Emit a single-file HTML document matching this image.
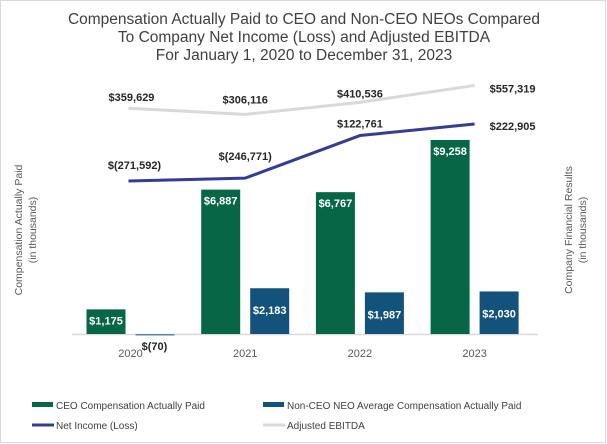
<!DOCTYPE html>
<html><head><meta charset="utf-8"><style>
body{margin:0;background:#fff}
svg{display:block;font-family:"Liberation Sans",Arial,sans-serif}
</style></head><body>
<svg id="chart" width="607" height="444" viewBox="0 0 607 444">
<rect x="0.5" y="0.5" width="605" height="442" fill="#fff" stroke="#d9d9d9"/>
<g fill="#404040" font-size="15.5" text-anchor="middle">
<text x="304" y="24">Compensation Actually Paid to CEO and Non-CEO NEOs Compared</text>
<text x="304" y="42">To Company Net Income (Loss) and Adjusted EBITDA</text>
<text x="304" y="60">For January 1, 2020 to December 31, 2023</text>
</g>
<text transform="translate(22,230) rotate(-90)" text-anchor="middle" font-size="10.5" fill="#595959"><tspan x="0" y="0">Compensation Actually Paid</tspan><tspan x="0" y="14">(in thousands)</tspan></text>
<text transform="translate(572,230) rotate(-90)" text-anchor="middle" font-size="10.5" fill="#595959"><tspan x="0" y="0">Company Financial Results</tspan><tspan x="0" y="14">(in thousands)</tspan></text>
<line x1="72" y1="334.5" x2="538" y2="334.5" stroke="#d9d9d9" stroke-width="1.5"/>
<g id="plot"></g>
<g font-size="10" fill="#404040">
<rect x="32" y="402" width="21" height="5" fill="#076645"/>
<text x="56" y="409">CEO Compensation Actually Paid</text>
<rect x="263" y="402" width="21" height="5" fill="#13527a"/>
<text x="287" y="409">Non-CEO NEO Average Compensation Actually Paid</text>
<line x1="32" y1="425" x2="54" y2="425" stroke="#333d96" stroke-width="3"/>
<text x="56" y="429">Net Income (Loss)</text>
<line x1="263" y1="425" x2="285" y2="425" stroke="#d9d9d9" stroke-width="3"/>
<text x="287" y="429">Adjusted EBITDA</text>
</g>
</svg>
<script>
const years=["2020","2021","2022","2023"];
const ceoValues=[1175,6887,6767,9258];
const neoValues=[-70,2183,1987,2030];
const netIncome=[-271592,-246771,122761,222905];
const ebitda=[359629,306116,410536,557319];
const ceoLabels=["$1,175","$6,887","$6,767","$9,258"];
const neoLabels=["$(70)","$2,183","$1,987","$2,030"];
const netLabels=["$(271,592)","$(246,771)","$122,761","$222,905"];
const ebitdaLabels=["$359,629","$306,116","$410,536","$557,319"];

const NS="http://www.w3.org/2000/svg";
const g=document.getElementById('plot');
function xC(i){return 130.5+i*114.7;}
function yL(v){return 334-v*0.02096;}
function yR(v){return 149.7-v*0.0001153;}
function mk(t,a){const e=document.createElementNS(NS,t);for(const k in a)e.setAttribute(k,a[k]);g.appendChild(e);return e;}
const bw=39;
years.forEach((y,i)=>{
  const c=xC(i);
  let t=mk('text',{x:c,y:357,'text-anchor':'middle','font-size':11,fill:'#595959'});t.textContent=y;
  
  
  let y1=yL(ceoValues[i]),y0=yL(0);
  let r=mk('rect',{x:c-44,y:Math.min(y0,y1),width:bw,height:Math.abs(y0-y1),fill:'#076645'});
  
  
  let l=mk('text',{x:c-24.5,y:y1+15,'text-anchor':'middle','font-size':11,'font-weight':'bold',fill:'#fff'});l.textContent=ceoLabels[i];
  
  
  y1=yL(neoValues[i]);
  r=mk('rect',{x:c+5,y:Math.min(y0,y1),width:bw,height:Math.max(1.5,Math.abs(y0-y1)),fill:neoValues[i]<0?'#5a87aa':'#13527a'});
  
  
  if(neoValues[i]<0){l=mk('text',{x:c+24,y:y0+16,'text-anchor':'middle','font-size':11,'font-weight':'bold',fill:'#262626'});}
  else{l=mk('text',{x:c+24.5,y:y1+26,'text-anchor':'middle','font-size':11,'font-weight':'bold',fill:'#fff'});}
  l.textContent=neoLabels[i];
  
  
});
function line(vals,col,name,labels,offs){
  const p=mk('polyline',{points:vals.map((v,i)=>(i==0?xC(i)-2:xC(i))+','+yR(v)).join(' '),fill:'none',stroke:col,'stroke-width':3,'stroke-linejoin':'round'});
  
  
  vals.forEach((v,i)=>{
    const o=offs[i];
    const t=mk('text',{x:xC(i)+o[0],y:yR(v)+o[1],'text-anchor':'middle','font-size':11,'font-weight':'bold',fill:'#262626'});
    t.textContent=labels[i];
    
    
  });
}
line(ebitda,'#d9d9d9','ebitda-line',ebitdaLabels,[[1,-7],[0,-11],[0,-5],[38,7]]);
line(netIncome,'#333d96','net-income-line',netLabels,[[4,-12],[0,-18],[0,-8],[38,6]]);
</script>
</body></html>
